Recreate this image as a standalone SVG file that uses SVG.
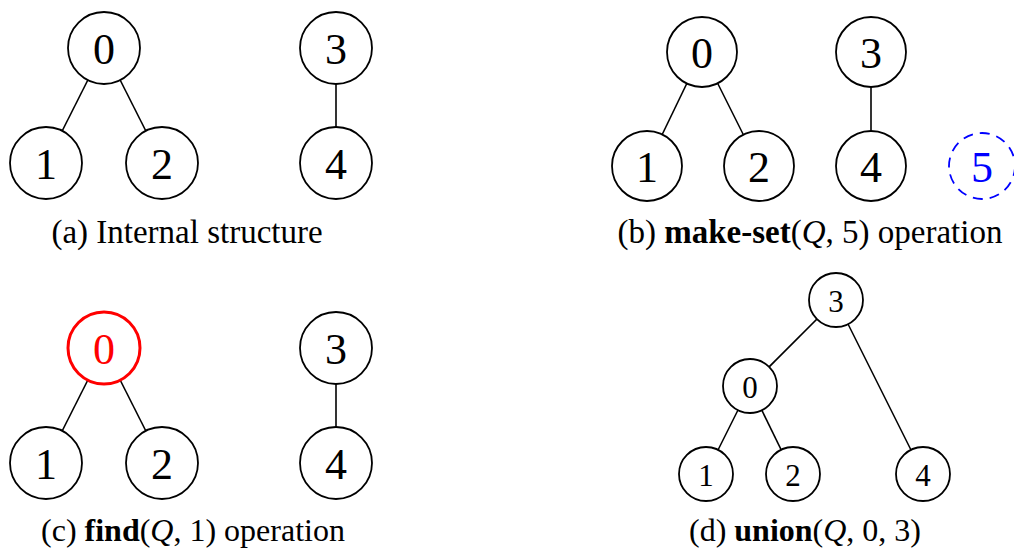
<svg xmlns="http://www.w3.org/2000/svg" width="1014" height="550" viewBox="0 0 1014 550">
<style>
.n{fill:#fff;stroke:#000;stroke-width:1.8}
.e{stroke:#000;stroke-width:1.6}
.d{font-family:"Liberation Serif",serif;font-size:44px;text-anchor:middle;dominant-baseline:central;fill:#000}
.ds{font-size:31px}
.c{font-family:"Liberation Serif",serif;font-size:33px;text-anchor:middle;fill:#000}
.c2{font-size:32px}
.b{font-weight:bold}
.i{font-style:italic}
</style>
<rect width="1014" height="550" fill="#fff"/>
<g id="connectors">
<line class="e" x1="104" y1="48" x2="46" y2="163"/>
<line class="e" x1="104" y1="48" x2="162" y2="163"/>
<line class="e" x1="336" y1="48" x2="336" y2="163"/>
<line class="e" x1="702" y1="52" x2="647" y2="166"/>
<line class="e" x1="702" y1="52" x2="759" y2="166"/>
<line class="e" x1="871" y1="52" x2="871" y2="166"/>
<line class="e" x1="104" y1="348" x2="46" y2="463"/>
<line class="e" x1="104" y1="348" x2="162" y2="463"/>
<line class="e" x1="336" y1="348" x2="336" y2="463"/>
<line class="e" x1="836" y1="300" x2="750" y2="386"/>
<line class="e" x1="836" y1="300" x2="923" y2="474"/>
<line class="e" x1="750" y1="386" x2="706" y2="474"/>
<line class="e" x1="750" y1="386" x2="793" y2="474"/>
</g>
<g id="a-n0"><circle class="n" cx="104" cy="48" r="36"/><text class="d" x="104" y="49">0</text></g>
<g id="a-n1"><circle class="n" cx="46" cy="163" r="36"/><text class="d" x="46" y="164">1</text></g>
<g id="a-n2"><circle class="n" cx="162" cy="163" r="36"/><text class="d" x="162" y="164">2</text></g>
<g id="a-n3"><circle class="n" cx="336" cy="48" r="36"/><text class="d" x="336" y="49">3</text></g>
<g id="a-n4"><circle class="n" cx="336" cy="163" r="36"/><text class="d" x="336" y="164">4</text></g>
<g id="b-n0"><circle class="n" cx="702" cy="52" r="35"/><text class="d" x="702" y="53">0</text></g>
<g id="b-n1"><circle class="n" cx="647" cy="166" r="35"/><text class="d" x="647" y="167">1</text></g>
<g id="b-n2"><circle class="n" cx="759" cy="166" r="35"/><text class="d" x="759" y="167">2</text></g>
<g id="b-n3"><circle class="n" cx="871" cy="52" r="35"/><text class="d" x="871" y="53">3</text></g>
<g id="b-n4"><circle class="n" cx="871" cy="166" r="35"/><text class="d" x="871" y="167">4</text></g>
<g id="b-n5"><circle cx="982" cy="166" r="33" fill="none" stroke="#0000ff" stroke-width="1.8" stroke-dasharray="10,7"/><text class="d" x="982" y="167" style="fill:#0000ff">5</text></g>
<g id="c-n0"><circle cx="104" cy="348" r="36" fill="#fff" stroke="#ff0000" stroke-width="3"/><text class="d" x="104" y="349" style="fill:#ff0000">0</text></g>
<g id="c-n1"><circle class="n" cx="46" cy="463" r="36"/><text class="d" x="46" y="464">1</text></g>
<g id="c-n2"><circle class="n" cx="162" cy="463" r="36"/><text class="d" x="162" y="464">2</text></g>
<g id="c-n3"><circle class="n" cx="336" cy="348" r="36"/><text class="d" x="336" y="349">3</text></g>
<g id="c-n4"><circle class="n" cx="336" cy="463" r="36"/><text class="d" x="336" y="464">4</text></g>
<g id="d-n3"><circle class="n" cx="836" cy="300" r="27"/><text class="d ds" x="836" y="301">3</text></g>
<g id="d-n0"><circle class="n" cx="750" cy="386" r="27"/><text class="d ds" x="750" y="387">0</text></g>
<g id="d-n1"><circle class="n" cx="706" cy="474" r="27"/><text class="d ds" x="706" y="475">1</text></g>
<g id="d-n2"><circle class="n" cx="793" cy="474" r="27"/><text class="d ds" x="793" y="475">2</text></g>
<g id="d-n4"><circle class="n" cx="923" cy="474" r="27"/><text class="d ds" x="923" y="475">4</text></g>
<g id="captions">
<text class="c" x="187" y="243">(a) Internal structure</text>
<text class="c" x="810" y="243">(b) <tspan class="b">make-set</tspan>(<tspan class="i">Q</tspan>, 5) operation</text>
<text class="c c2" x="193" y="541">(c) <tspan class="b">find</tspan>(<tspan class="i">Q</tspan>, 1) operation</text>
<text class="c c2" x="805" y="541">(d) <tspan class="b">union</tspan>(<tspan class="i">Q</tspan>, 0, 3)</text>
</g>
</svg>
